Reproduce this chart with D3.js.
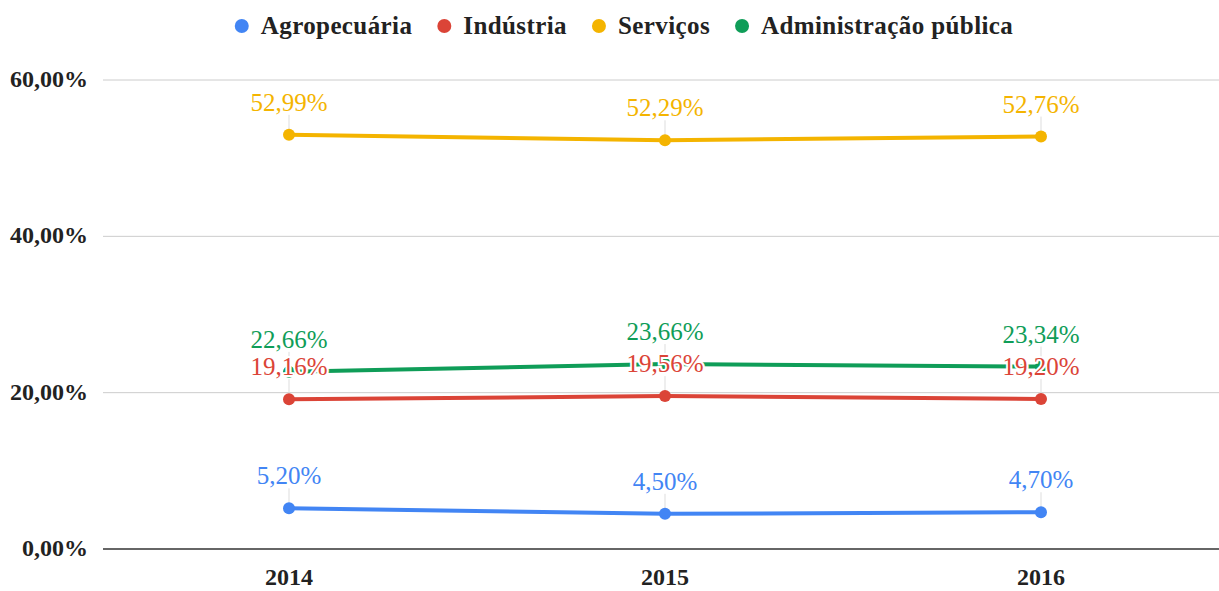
<!DOCTYPE html>
<html>
<head>
<meta charset="utf-8">
<script src="https://cdn.jsdelivr.net/npm/d3@7"></script>
<style>
  body { margin: 0; background: #fff; }
</style>
</head>
<body>
<svg id="chart" width="1219" height="591"></svg>
<script>
const years = ['2014', '2015', '2016'];
const agro = [5.20, 4.50, 4.70];
const industria = [19.16, 19.56, 19.20];
const servicos = [52.99, 52.29, 52.76];
const adminPublica = [22.66, 23.66, 23.34];
const yTicks = [0, 20, 40, 60];

const series = [
    { name: 'Agropecuária', values: agro, color: '#4285F4' },
    { name: 'Indústria', values: industria, color: '#DB4437' },
    { name: 'Serviços', values: servicos, color: '#F4B400' },
    { name: 'Administração pública', values: adminPublica, color: '#0F9D58' },
];

const width = 1219;
const height = 591;
const margin = { top: 80, right: 0, bottom: 42, left: 103 };
const font = "'Liberation Serif', 'Times New Roman', Times, serif";

const svg = d3.select('#chart').attr('font-family', font);

const x = d3.scalePoint()
    .domain(years)
    .range([101, 1229])
    .padding(0.5);

const y = d3.scaleLinear()
    .domain([0, 60])
    .range([height - margin.bottom, margin.top]);

const fmt = v => v.toFixed(2).replace('.', ',') + '%';

// gridlines
svg.append('g')
    .selectAll('line')
    .data(yTicks)
    .join('line')
    .attr('x1', margin.left)
    .attr('x2', width)
    .attr('y1', d => y(d))
    .attr('y2', d => y(d))
    .attr('stroke', d => d === 0 ? '#333' : '#ccc')
    .attr('stroke-width', d => d === 0 ? 1.5 : 1);

// y labels
svg.append('g')
    .selectAll('text')
    .data(yTicks)
    .join('text')
    .attr('x', 88)
    .attr('y', d => y(d) + 7)
    .attr('text-anchor', 'end')
    .attr('font-size', '24px')
    .attr('font-weight', 'bold')
    .attr('fill', '#222')
    .text(d => fmt(d));

// x labels
svg.append('g')
    .selectAll('text')
    .data(years)
    .join('text')
    .attr('x', d => x(d))
    .attr('y', 585)
    .attr('text-anchor', 'middle')
    .attr('font-size', '24px')
    .attr('font-weight', 'bold')
    .attr('fill', '#222')
    .text(d => d);

// leader lines from labels to points
series.forEach(s => {
    svg.append('g')
        .selectAll('line')
        .data(s.values)
        .join('line')
        .attr('x1', (d, i) => x(years[i]))
        .attr('x2', (d, i) => x(years[i]))
        .attr('y1', d => y(d) - 20)
        .attr('y2', d => y(d))
        .attr('stroke', '#ddd')
        .attr('stroke-width', 1);
});

const line = d3.line()
    .x((d, i) => x(years[i]))
    .y(d => y(d));

series.forEach(s => {
    svg.append('path')
        .datum(s.values)
        .attr('fill', 'none')
        .attr('stroke', s.color)
        .attr('stroke-width', 4)
        .attr('d', line);

    svg.append('g')
        .selectAll('circle')
        .data(s.values)
        .join('circle')
        .attr('cx', (d, i) => x(years[i]))
        .attr('cy', d => y(d))
        .attr('r', 6)
        .attr('fill', s.color);
});

// data labels
series.forEach(s => {
    svg.append('g')
        .selectAll('text')
        .data(s.values)
        .join('text')
        .attr('x', (d, i) => x(years[i]))
        .attr('y', d => y(d) - 24)
        .attr('text-anchor', 'middle')
        .attr('font-size', '25px')
        .attr('fill', s.color)
        .attr('stroke', '#fff')
        .attr('stroke-width', 4)
        .attr('paint-order', 'stroke')
        .text(d => fmt(d));
});

// legend, laid out from measured text widths
const legend = svg.append('g');
const items = legend.selectAll('g')
    .data(series)
    .join('g');

items.append('circle')
    .attr('r', 7)
    .attr('fill', d => d.color);

items.append('text')
    .attr('x', 19)
    .attr('y', 8)
    .attr('font-size', '25px')
    .attr('font-weight', 'bold')
    .attr('letter-spacing', '0.4px')
    .attr('fill', '#222')
    .text(d => d.name);

let cursor = 0;
const offsets = [];
items.each(function () {
    const w = d3.select(this).select('text').node().getComputedTextLength();
    offsets.push(cursor);
    cursor += 19 + w + 32;
});
const total = cursor - 32 + 7;
const start = 624 - total / 2 + 7;
items.attr('transform', (d, i) => `translate(${start + offsets[i]}, 26)`);
</script>
</body>
</html>
